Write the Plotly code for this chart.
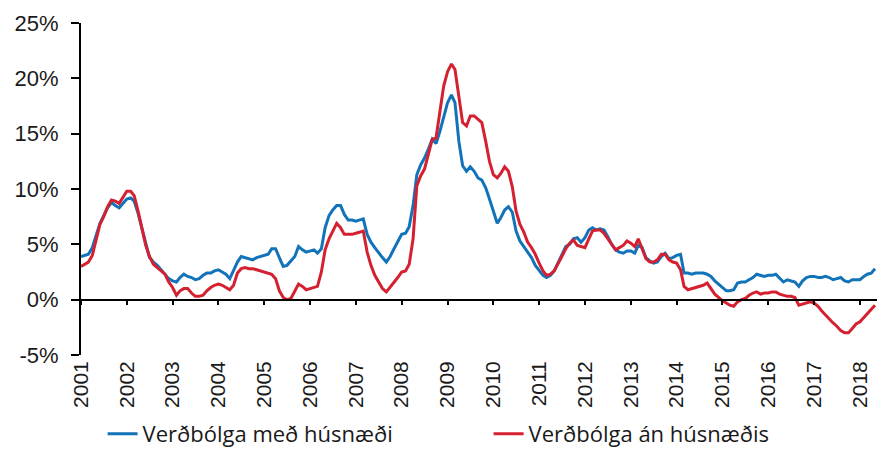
import plotly.graph_objects as go
import pandas as pd

years = [str(y) for y in range(2001, 2019)]

# Verðbólga með húsnæði (monthly, Jan 2001 - May 2018)
med_husnaedi = [
    3.9, 4.0, 4.1, 4.7, 5.8, 6.9, 7.6, 8.3, 8.8, 8.5, 8.3, 8.7,      # 2001
    9.1, 9.2, 8.9, 7.8, 6.5, 4.9, 3.8, 3.4, 3.1, 2.7, 2.3, 1.9,      # 2002
    1.7, 1.6, 2.0, 2.3, 2.1, 2.0, 1.8, 1.9, 2.2, 2.4, 2.4, 2.6,      # 2003
    2.7, 2.5, 2.3, 1.9, 2.6, 3.4, 3.9, 3.8, 3.7, 3.6, 3.8, 3.9,      # 2004
    4.0, 4.1, 4.6, 4.6, 3.8, 3.0, 3.1, 3.5, 3.9, 4.8, 4.5, 4.3,      # 2005
    4.4, 4.5, 4.2, 4.6, 6.5, 7.6, 8.1, 8.5, 8.5, 7.7, 7.2, 7.2,      # 2006
    7.1, 7.2, 7.3, 5.9, 5.2, 4.7, 4.2, 3.8, 3.4, 3.9, 4.6, 5.2,      # 2007
    5.9, 6.0, 6.6, 8.5, 11.3, 12.2, 12.8, 13.6, 14.5, 14.1, 15.2, 16.5,  # 2008
    17.8, 18.5, 17.8, 14.3, 12.1, 11.6, 12.0, 11.6, 11.0, 10.8, 10.1, 9.1,  # 2009
    7.9, 6.9, 7.4, 8.1, 8.4, 7.9, 6.2, 5.3, 4.8, 4.3, 3.8, 3.1,      # 2010
    2.6, 2.2, 2.0, 2.2, 2.6, 3.3, 4.0, 4.8, 5.0, 5.5, 5.6, 5.2,      # 2011
    5.6, 6.3, 6.5, 6.3, 6.4, 6.3, 5.7, 5.0, 4.5, 4.3, 4.2, 4.4,      # 2012
    4.4, 4.2, 4.9, 4.7, 3.8, 3.5, 3.3, 3.4, 3.9, 4.2, 3.7, 3.8,      # 2013
    4.0, 4.1, 2.4, 2.4, 2.3, 2.4, 2.4, 2.4, 2.3, 2.1, 1.7, 1.4,      # 2014
    1.1, 0.8, 0.8, 0.9, 1.5, 1.6, 1.6, 1.8, 2.0, 2.3, 2.2, 2.1,      # 2015
    2.2, 2.2, 2.3, 1.9, 1.6, 1.8, 1.7, 1.6, 1.2, 1.7, 2.0, 2.1,      # 2016
    2.1, 2.0, 2.0, 2.1, 2.0, 1.8, 1.9, 2.0, 1.7, 1.6, 1.8, 1.8,      # 2017
    1.8, 2.1, 2.3, 2.4, 2.8,                                         # 2018
]

# Verðbólga án húsnæðis
an_husnaedis = [
    3.0, 3.2, 3.4, 4.0, 5.5, 6.8, 7.5, 8.4, 9.0, 8.9, 8.7, 9.2,      # 2001
    9.8, 9.8, 9.4, 8.0, 6.4, 4.9, 3.9, 3.2, 2.9, 2.6, 2.3, 1.6,      # 2002
    1.1, 0.4, 0.8, 1.0, 1.0, 0.6, 0.3, 0.3, 0.4, 0.8, 1.1, 1.3,      # 2003
    1.4, 1.3, 1.1, 0.9, 1.3, 2.4, 2.8, 2.9, 2.8, 2.8, 2.7, 2.6,      # 2004
    2.5, 2.4, 2.3, 1.9, 0.8, 0.2, 0.0, 0.1, 0.7, 1.4, 1.2, 0.9,      # 2005
    1.0, 1.1, 1.2, 2.5, 4.5, 5.5, 6.2, 6.9, 6.5, 5.9, 5.9, 5.9,      # 2006
    6.0, 6.1, 6.2, 4.3, 3.1, 2.2, 1.6, 1.0, 0.7, 1.1, 1.5, 2.0,      # 2007
    2.5, 2.6, 3.2, 5.5, 10.3, 11.2, 11.8, 13.2, 14.5, 14.6, 17.0, 19.3,  # 2008
    20.6, 21.3, 20.8, 18.5, 16.0, 15.7, 16.6, 16.6, 16.3, 16.0, 14.3, 12.5,  # 2009
    11.3, 11.0, 11.4, 12.0, 11.6, 10.2, 8.0, 6.8, 6.1, 5.2, 4.7, 4.1,  # 2010
    3.3, 2.6, 2.2, 2.3, 2.6, 3.2, 3.9, 4.6, 5.1, 5.4, 4.9, 4.8,      # 2011
    4.7, 5.5, 6.2, 6.3, 6.3, 6.0, 5.5, 5.0, 4.5, 4.7, 4.9, 5.3,      # 2012
    5.1, 4.8, 5.5, 4.6, 3.7, 3.4, 3.4, 3.6, 4.1, 4.1, 3.6, 3.4,      # 2013
    3.3, 2.7, 1.2, 0.9, 1.0, 1.1, 1.2, 1.3, 1.5, 1.0, 0.5, 0.2,      # 2014
    -0.1, -0.3, -0.5, -0.6, -0.2, 0.0, 0.1, 0.4, 0.6, 0.7, 0.5, 0.6,  # 2015
    0.6, 0.7, 0.7, 0.5, 0.4, 0.3, 0.3, 0.2, -0.5, -0.4, -0.3, -0.2,  # 2016
    -0.3, -0.6, -1.0, -1.4, -1.8, -2.1, -2.4, -2.8, -3.0, -3.0, -2.6, -2.2,  # 2017
    -2.0, -1.6, -1.2, -0.9, -0.5,                                    # 2018
]

y_ticks = [-5, 0, 5, 10, 15, 20, 25]
y_labels = [f"{v}%" for v in y_ticks]

dates = pd.date_range("2001-01-01", periods=len(med_husnaedi), freq="MS")
year_dates = [f"{y}-01-01" for y in years]

BLUE = "#1273b9"
RED = "#d52030"
FONT = "Liberation Sans"

fig = go.Figure()
fig.add_trace(go.Scatter(x=dates, y=med_husnaedi, mode="lines",
                         name="Verðbólga með húsnæði",
                         line=dict(color=BLUE, width=3)))
fig.add_trace(go.Scatter(x=dates, y=an_husnaedis, mode="lines",
                         name="Verðbólga án húsnæðis",
                         line=dict(color=RED, width=3)))
# helper trace so the zero-line tick axis is drawn
fig.add_trace(go.Scatter(x=[dates[0]], y=[None], xaxis="x2", showlegend=False,
                         hoverinfo="skip", mode="lines"))

xr = ["2001-01-01", "2018-05-17"]
fig.update_layout(
    width=877, height=455,
    margin=dict(l=81, r=0, t=23, b=100),
    paper_bgcolor="white", plot_bgcolor="white",
    font=dict(family=FONT, size=21, color="#1a1a1a"),
    xaxis=dict(range=xr, tickvals=year_dates, ticktext=years, tickangle=-90,
               showgrid=False, zeroline=False, showline=False, ticks="",
               tickfont=dict(size=21), ticklabelstandoff=1, automargin=False),
    xaxis2=dict(range=xr, overlaying="x", anchor="free", position=5/30,
                tickvals=year_dates, showticklabels=False, showgrid=False,
                zeroline=False, showline=True, linecolor="black", linewidth=1.5,
                ticks="outside", ticklen=5, tickwidth=1.5, tickcolor="black",
                automargin=False),
    yaxis=dict(range=[-5, 25], tickvals=y_ticks, ticktext=y_labels,
               showgrid=False, zeroline=False, showline=True, linecolor="black",
               linewidth=2, ticks="outside", ticklen=8, tickwidth=2,
               tickcolor="black", tickfont=dict(size=22), ticklabelstandoff=8,
               automargin=False),
    legend=dict(orientation="h", xref="container", yref="container",
                x=0.117, y=-0.006, xanchor="left", yanchor="bottom",
                font=dict(size=22, family="Open Sans"), entrywidth=341,
                entrywidthmode="pixels", bgcolor="rgba(0,0,0,0)"),
    showlegend=True,
)

fig.write_html("out.html", config={"displayModeBar": False},
               post_script="document.body.style.margin='0';")
